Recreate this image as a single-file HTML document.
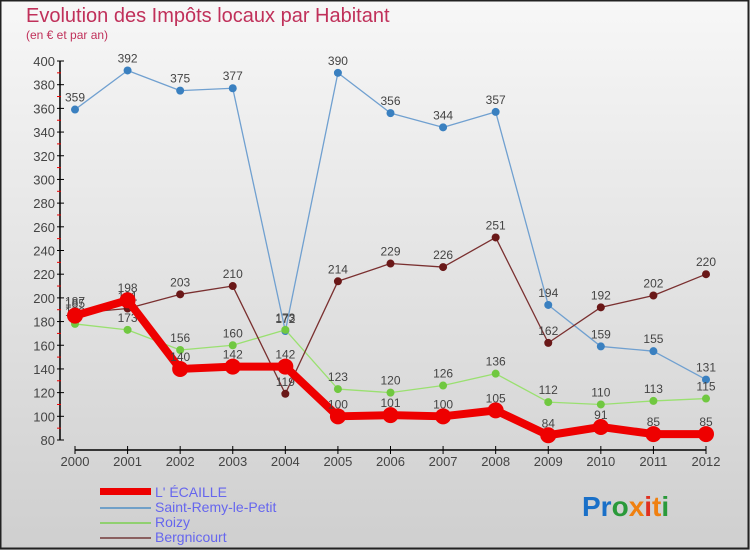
<!DOCTYPE html>
<html><head><meta charset="utf-8"><style>
html,body{margin:0;padding:0}
body{width:750px;height:550px;overflow:hidden;font-family:"Liberation Sans",sans-serif}
svg{display:block}
</style></head><body>
<svg id="chart" width="750" height="550">
<defs><linearGradient id="bg" x1="0" y1="0" x2="0" y2="1"><stop offset="0" stop-color="#f7f7f7"/><stop offset="1" stop-color="#cfcfcf"/></linearGradient></defs>
<rect x="0" y="0" width="750" height="550" fill="url(#bg)"/>
<rect x="0.5" y="0.5" width="748" height="548" fill="none" stroke="#222" stroke-width="2"/>
<text x="26" y="22" font-size="20" fill="#c0305a">Evolution des Impôts locaux par Habitant</text>
<text x="26" y="39" font-size="12" fill="#c0305a">(en € et par an)</text>
<g id="axes"></g>
<g id="series"></g>
<g id="legend">
 <rect x="100" y="488" width="51" height="7" fill="#e00"/>
 <text x="155" y="497" font-size="14" fill="#6666ee">L' ÉCAILLE</text>
 <rect x="100" y="507" width="51" height="2" fill="#70a0c8"/>
 <text x="155" y="512" font-size="14" fill="#6666ee">Saint-Remy-le-Petit</text>
 <rect x="100" y="522" width="51" height="2" fill="#90d070"/>
 <text x="155" y="527" font-size="14" fill="#6666ee">Roizy</text>
 <rect x="100" y="537" width="51" height="2" fill="#8a6060"/>
 <text x="155" y="542" font-size="14" fill="#6666ee">Bergnicourt</text>
</g>
<text x="582" y="516" font-size="28" font-weight="bold"><tspan fill="#1a70c8">Pr</tspan><tspan fill="#2a9a3a">o</tspan><tspan fill="#f08010">x</tspan><tspan fill="#e03020">i</tspan><tspan fill="#f08010">t</tspan><tspan fill="#2a9a3a">i</tspan></text>
</svg>
<script>
const years=[2000,2001,2002,2003,2004,2005,2006,2007,2008,2009,2010,2011,2012];
const yTicks=[80,100,120,140,160,180,200,220,240,260,280,300,320,340,360,380,400];
const lecaille=[185,198,140,142,142,100,101,100,105,84,91,85,85];
const saintRemy=[359,392,375,377,172,390,356,344,357,194,159,155,131];
const roizy=[178,173,156,160,173,123,120,126,136,112,110,113,115];
const bergnicourt=[187,191,203,210,119,214,229,226,251,162,192,202,220];
const NS='http://www.w3.org/2000/svg';
function X(i){return 75+i*(706-75)/12;}
function Y(v){return 440-(v-80)*(440-61)/320;}
function mk(tag,attrs,parent){const e=document.createElementNS(NS,tag);for(const k in attrs)e.setAttribute(k,attrs[k]);parent.appendChild(e);return e;}
const ax=document.getElementById('axes');
let l=mk('line',{x1:60,y1:61,x2:60,y2:440,stroke:'#000','stroke-width':1.5},ax);


yTicks.forEach(v=>{
 const t=mk('line',{x1:57,y1:Y(v),x2:64,y2:Y(v),stroke:'#000'},ax);
 
 
 if(v<400){const m=mk('line',{x1:57,y1:Y(v+10),x2:61,y2:Y(v+10),stroke:'#e00'},ax);
 
 }
 const tx=mk('text',{x:55,y:Y(v)+5,'text-anchor':'end','font-size':13,fill:'#444'},ax);
 tx.textContent=v;
 
 
});
l=mk('line',{x1:X(0),y1:450,x2:X(12),y2:450,stroke:'#000','stroke-width':1.5},ax);


years.forEach((y,i)=>{
 const t=mk('line',{x1:X(i),y1:446,x2:X(i),y2:454,stroke:'#000'},ax);
 
 
 const tx=mk('text',{x:X(i),y:466,'text-anchor':'middle','font-size':13,fill:'#444'},ax);
 tx.textContent=y;
 
 
});
const sg=document.getElementById('series');
function draw(data,color,w,r,name,fill){
 const g=mk('g',{},sg);
 
 
 const p=mk('polyline',{points:data.map((v,i)=>X(i)+','+Y(v)).join(' '),fill:'none',stroke:color,'stroke-width':w,'stroke-linejoin':'round'},g);
 
 
 data.forEach((v,i)=>{
  const c=mk('circle',{cx:X(i),cy:Y(v),r:r,fill:fill},g);
  
  
  const t=mk('text',{x:X(i),y:Y(v)-8,'text-anchor':'middle','font-size':12,fill:'#444'},g);
  t.textContent=v;
  
  
 });
}
draw(saintRemy,'#70a0d0',1.3,4,'saint-remy','#3a80c0');
draw(roizy,'#9ae070',1.3,4,'roizy','#70c840');
draw(bergnicourt,'#7a3030',1.3,4,'bergnicourt','#6a1818');
draw(lecaille,'#ee0000',8,8,'lecaille','#ee0000');
</script>
</body></html>
